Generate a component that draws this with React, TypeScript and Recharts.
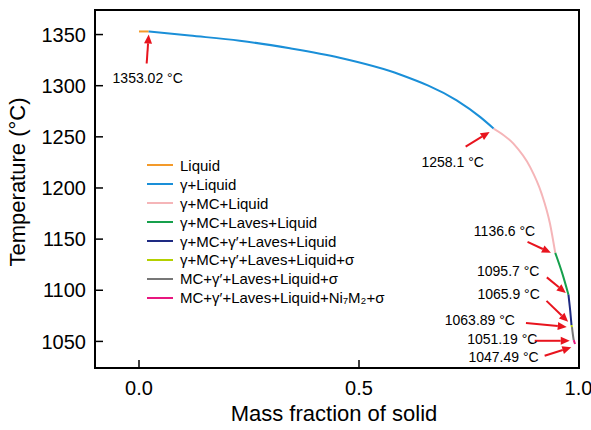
import React from 'react';
import { LineChart, Line, XAxis, YAxis, ReferenceDot, ReferenceArea } from 'recharts';

// Scheil solidification path, one segment per phase region: [mass fraction solid, temperature °C]
const liquid: [number, number][] = [[0, 1353.02], [0.022, 1353.02]];
const gammaLiquid: [number, number][] = [
  [0.022, 1353.02], [0.115, 1349], [0.229, 1344], [0.343, 1336.5], [0.456, 1327.3],
  [0.593, 1311], [0.722, 1285.6], [0.775, 1269.5], [0.806, 1258.1],
];
const gammaMcLiquid: [number, number][] = [
  [0.806, 1258.1], [0.851, 1243.3], [0.889, 1220.4], [0.915, 1194.5], [0.934, 1165.2], [0.946, 1136.6],
];
const lavesLiquid: [number, number][] = [[0.946, 1136.6], [0.962, 1116.5], [0.976, 1095.7]];
const gammaPrimeLiquid: [number, number][] = [[0.976, 1095.7], [0.98, 1080], [0.983, 1065.9]];
const sigmaLiquid: [number, number][] = [[0.983, 1065.9], [0.984, 1063.89]];
const mcSigmaLiquid: [number, number][] = [[0.984, 1063.89], [0.986, 1057], [0.988, 1051.19]];
const ni7m2Liquid: [number, number][] = [[0.988, 1051.19], [0.991, 1047.49]];

const SERIES = [
  { name: 'Liquid', color: '#F39A2A', points: liquid },
  { name: 'γ+Liquid', color: '#1A8FD8', points: gammaLiquid },
  { name: 'γ+MC+Liquid', color: '#F5B5B8', points: gammaMcLiquid },
  { name: 'γ+MC+Laves+Liquid', color: '#16A04C', points: lavesLiquid },
  { name: 'γ+MC+γ′+Laves+Liquid', color: '#1E2A82', points: gammaPrimeLiquid },
  { name: 'γ+MC+γ′+Laves+Liquid+σ', color: '#B4D000', points: sigmaLiquid },
  { name: 'MC+γ′+Laves+Liquid+σ', color: '#777777', points: mcSigmaLiquid },
  { name: 'MC+γ′+Laves+Liquid+Ni₇M₂+σ', color: '#E8177F', points: ni7m2Liquid },
];

// phase-boundary temperatures that get a callout
const boundaryF = [0.022, 0.806, 0.946, 0.976, 0.983, 0.984, 0.988, 0.991];
const boundaryT = [1353.02, 1258.1, 1136.6, 1095.7, 1065.9, 1063.89, 1051.19, 1047.49];

const X_TICKS = [0, 0.5, 1.0];
const Y_TICKS = [1050, 1100, 1150, 1200, 1250, 1300, 1350];
const X_DOMAIN = [-0.1, 1.0];
const Y_DOMAIN = [1024, 1374];

// callout geometry in pixels, relative to the boundary point
const CALLOUTS = [
  { tip: [0, 3], tail: [-2, 32], text: [-1, 52], anchor: 'middle' },
  { tip: [-4, 3.4], tail: [-28, 18], text: [-41, 38.4], anchor: 'middle' },
  { tip: [-4.3, 0], tail: [-27.7, -11], text: [-20, -16.5], anchor: 'end' },
  { tip: [-2.6, -1.6], tail: [-21.6, -17.3], text: [-29, -18.3], anchor: 'end' },
  { tip: [-3.4, -3.3], tail: [-25, -24.3], text: [-31.7, -25.7], anchor: 'end' },
  { tip: [-5.2, -0.3], tail: [-46, -4.3], text: [-57, -2], anchor: 'end' },
  { tip: [-4, 0.6], tail: [-39, 0.6], text: [-36.3, 3.9], anchor: 'end' },
  { tip: [-3.7, 3.4], tail: [-30.4, 11.8], text: [-36.4, 17.8], anchor: 'end' },
];

const FONT = '"Liberation Sans", Arial, Helvetica, sans-serif';
const RED = '#E8141E';

const Callout = ({ cx, cy, idx }: any) => {
  const c = CALLOUTS[idx];
  const tx = cx + c.tip[0];
  const ty = cy + c.tip[1];
  const sx = cx + c.tail[0];
  const sy = cy + c.tail[1];
  const ang = Math.atan2(ty - sy, tx - sx);
  const len = 9;
  const hw = 4;
  const bx = tx - len * Math.cos(ang);
  const by = ty - len * Math.sin(ang);
  const px = -Math.sin(ang) * hw;
  const py = Math.cos(ang) * hw;
  return (
    <g>
      <line x1={sx} y1={sy} x2={bx} y2={by} stroke={RED} strokeWidth={2} />
      <polygon points={`${tx},${ty} ${bx + px},${by + py} ${bx - px},${by - py}`} fill={RED} />
      <text x={cx + c.text[0]} y={cy + c.text[1]} textAnchor={c.anchor} fontSize={14} fill="#000" fontFamily={FONT}>
        {`${boundaryT[idx]} °C`}
      </text>
    </g>
  );
};

// legend sits inside the plot area, so it is drawn over the chart instead of taking layout space
const PhaseLegend = () => (
  <div style={{ position: 'absolute', left: 147, top: 156, fontFamily: FONT, fontSize: 15, color: '#000' }}>
    {SERIES.map((s) => (
      <div key={s.name} style={{ display: 'flex', alignItems: 'center', height: 18.9, whiteSpace: 'nowrap' }}>
        <span style={{ display: 'inline-block', width: 26, height: 2, background: s.color, marginRight: 7 }} />
        <span>{s.name}</span>
      </div>
    ))}
  </div>
);

export default function App() {
  return (
    <div style={{ position: 'fixed', left: 0, top: 0, width: 591, height: 430, background: '#fff' }}>
      <LineChart width={591} height={430} margin={{ top: 10, right: 12, bottom: 0, left: 0 }}>
        <XAxis
          dataKey="f"
          type="number"
          domain={X_DOMAIN}
          ticks={X_TICKS}
          allowDataOverflow
          height={62}
          tickSize={-8}
          tickMargin={21}
          tickFormatter={(v: number) => v.toFixed(1)}
          tick={{ fontSize: 20, fill: '#000', fontFamily: FONT }}
          tickLine={{ stroke: '#000', strokeWidth: 1.5 }}
          axisLine={false}
          label={{
            content: ({ viewBox }: any) => (
              <text x={viewBox.x + viewBox.width / 2 - 3} y={421} textAnchor="middle" fontSize={22} fill="#000" fontFamily={FONT}>
                Mass fraction of solid
              </text>
            ),
          }}
        />
        <YAxis
          dataKey="t"
          type="number"
          domain={Y_DOMAIN}
          ticks={Y_TICKS}
          allowDataOverflow
          width={95}
          tickSize={-8}
          tickMargin={17}
          tick={{ fontSize: 20, fill: '#000', fontFamily: FONT }}
          tickLine={{ stroke: '#000', strokeWidth: 1.5 }}
          axisLine={false}
          label={{
            content: () => (
              <text x={17} y={182} transform="rotate(-90, 17, 182)" textAnchor="middle" dominantBaseline="central" fontSize={22} fill="#000" fontFamily={FONT}>
                Temperature (°C)
              </text>
            ),
          }}
        />
        {/* plot frame */}
        <ReferenceArea
          x1={X_DOMAIN[0]}
          x2={X_DOMAIN[1]}
          y1={Y_DOMAIN[0]}
          y2={Y_DOMAIN[1]}
          fill="none"
          fillOpacity={0}
          stroke="#000"
          strokeWidth={2}
          ifOverflow="visible"
        />
        {SERIES.map((s) => (
          <Line
            key={s.name}
            name={s.name}
            data={s.points.map(([f, t]) => ({ f, t }))}
            dataKey="t"
            type="monotone"
            stroke={s.color}
            strokeWidth={2}
            dot={false}
            activeDot={false}
            isAnimationActive={false}
          />
        ))}
        {boundaryT.map((t, i) => (
          <ReferenceDot
            key={t}
            x={boundaryF[i]}
            y={t}
            r={0}
            ifOverflow="visible"
            shape={(props: any) => <Callout cx={props.cx} cy={props.cy} idx={i} />}
          />
        ))}
      </LineChart>
      <PhaseLegend />
    </div>
  );
}
